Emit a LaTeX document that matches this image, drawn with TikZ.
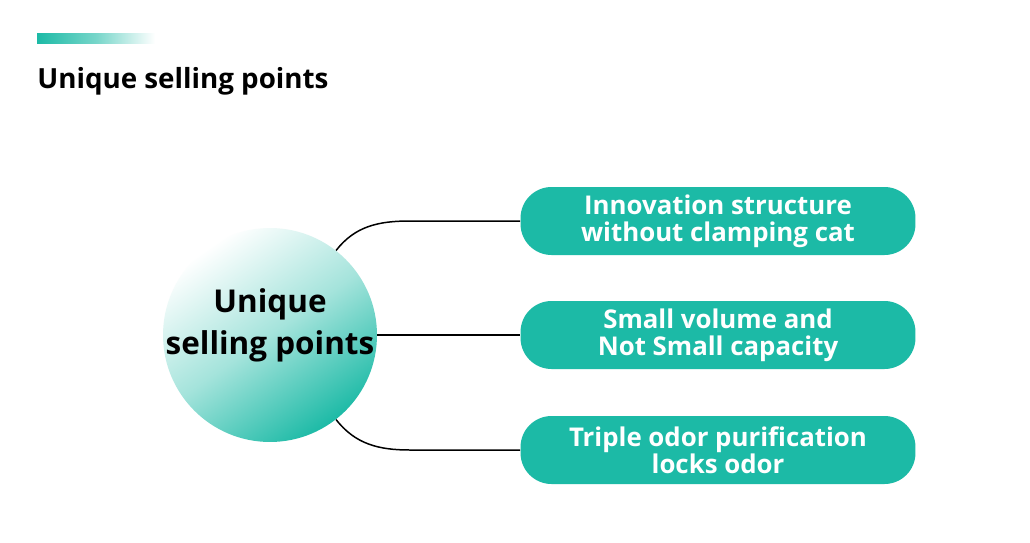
\documentclass[tikz,border=0pt]{standalone}
\usepackage{fontspec}
\setmainfont{Open Sans}
\usepackage{tikz}
\usetikzlibrary{positioning,calc}
\definecolor{uspteal}{RGB}{28,186,166}

\begin{document}
\begin{tikzpicture}[x=0.02cm,y=0.02cm,
  pointbox/.style={rectangle,rounded corners=0.62cm,fill=uspteal,minimum width=7.9cm,minimum height=1.36cm,
    inner sep=0pt,align=center,text=white,font=\bfseries\fontsize{14.7}{15.4}\selectfont},
  link/.style={draw=black,line width=0.85pt}]
\useasboundingbox[fill=white] (0,0) rectangle (1030,-542);
\shade[left color=uspteal,right color=white,middle color=uspteal!60] (37,-33) rectangle (155,-43);
\node (title) at (37,-88) [anchor=base west,inner sep=0pt,font=\bfseries\fontsize{15.8}{19}\selectfont] {Unique selling points};

\node (usp) at (270,-335) [circle,minimum size=4.28cm,inner sep=-8pt,top color=white,bottom color=uspteal,middle color=uspteal!40,
  shading angle=35,align=center,text depth=15pt,font=\bfseries\fontsize{17.9}{23.8}\selectfont] {Unique\\selling points};

\node (box1) at (718,-221) [pointbox] {Innovation structure\\without clamping cat};
\node (box2) at (718,-335) [pointbox] {Small volume and\\Not Small capacity};
\node (box3) at (718,-450) [pointbox] {Triple odor purification\\locks odor};

\draw[link] (usp.52) to[out=52,in=180] ($(box1.west)+(-110,0)$) -- (box1.west);
\draw[link] (usp.east) -- (box2.west);
\draw[link] (usp.-52) to[out=-52,in=180] ($(box3.west)+(-110,0)$) -- (box3.west);
\end{tikzpicture}
\end{document}
